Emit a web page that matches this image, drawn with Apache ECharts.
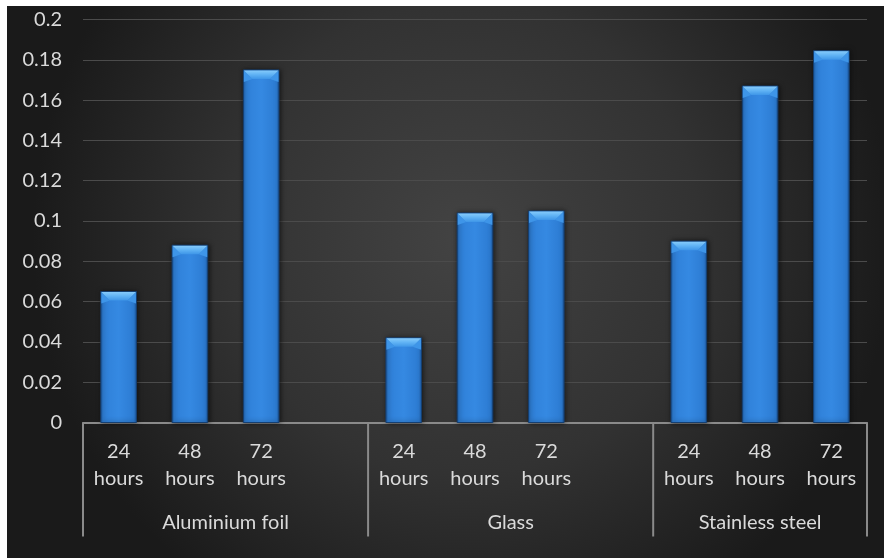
<!DOCTYPE html>
<html>
<head>
<meta charset="utf-8">
<script src="https://cdn.jsdelivr.net/npm/echarts@6/dist/echarts.min.js"></script>
<style>
  html, body { margin: 0; padding: 0; background: #ffffff; }
  #chart { position: absolute; left: 7px; top: 6px; width: 877px; height: 552px; }
</style>
</head>
<body>
<div id="chart"></div>
<script>
// Exposure times shown under each bar
const times = ['24\nhours', '48\nhours', '72\nhours'];
// Surface materials (outer axis level)
const materials = ['Aluminium foil', 'Glass', 'Stainless steel'];
// Measured values per material, one per exposure time
const aluminiumFoil = [0.065, 0.088, 0.175];
const glass = [0.042, 0.104, 0.105];
const stainlessSteel = [0.090, 0.167, 0.1845];
// Y-axis scale
const yMin = 0, yMax = 0.2, yStep = 0.02;

const seriesByMaterial = [aluminiumFoil, glass, stainlessSteel];

// Flatten into one category axis, with an empty spacer slot between materials
const categories = [];
const values = [];
const groupRanges = []; // [startIndex, count, name]
materials.forEach((m, gi) => {
  const start = categories.length;
  times.forEach((t, ti) => { categories.push(t); values.push(seriesByMaterial[gi][ti]); });
  let count = times.length;
  if (gi < materials.length - 1) { categories.push(''); values.push(null); count += 1; }
  groupRanges.push([start, count, m]);
});

const textColor = '#dadada';
const fontFamily = 'Lato, "Open Sans", sans-serif';
const fontSize = 20;

const chart = echarts.init(document.getElementById('chart'), null, { renderer: 'canvas' });

function renderBar(params, api) {
  const v = api.value(1);
  if (v === null || v === undefined || isNaN(v)) return null;
  const idx = api.value(0);
  const top = api.coord([idx, v]);
  const base = api.coord([idx, 0]);
  const w = api.size([1, 0])[0] * 0.5;
  const x0 = top[0] - w / 2, x1 = top[0] + w / 2;
  const y0 = top[1], y1 = base[1];
  const bev = Math.min(9, w * 0.26), bh = Math.min(9, (y1 - y0));
  return {
    type: 'group',
    children: [
      { type: 'rect', shape: { x: x0, y: y0, width: w, height: y1 - y0 },
        style: {
          fill: new echarts.graphic.LinearGradient(0, 0, 1, 0, [
            { offset: 0, color: '#1d5ea8' },
            { offset: 0.08, color: '#2f80d8' },
            { offset: 0.5, color: '#3589e2' },
            { offset: 0.92, color: '#2c7bd2' },
            { offset: 1, color: '#1a559b' }
          ]),
          stroke: '#163f70', lineWidth: 1,
          shadowBlur: 5, shadowColor: 'rgba(0,0,0,0.6)', shadowOffsetX: 1, shadowOffsetY: 0
        } },
      // side facets of the bevel
      { type: 'polygon', shape: { points: [[x0 + 0.5, y0 + 0.5], [x0 + bev, y0 + bh], [x0 + 0.5, y0 + bh + 3]] },
        style: { fill: '#3e95e8' } },
      { type: 'polygon', shape: { points: [[x1 - 0.5, y0 + 0.5], [x1 - bev, y0 + bh], [x1 - 0.5, y0 + bh + 3]] },
        style: { fill: '#3e95e8' } },
      // bevelled top face
      { type: 'polygon', shape: { points: [[x0 + 0.5, y0 + 0.5], [x1 - 0.5, y0 + 0.5], [x1 - bev, y0 + bh], [x0 + bev, y0 + bh]] },
        style: { fill: new echarts.graphic.LinearGradient(0, 0, 0, 1, [
            { offset: 0, color: '#86cbfb' },
            { offset: 0.5, color: '#5fb2f4' },
            { offset: 1, color: '#3f96e8' }
          ]) } }
    ]
  };
}

function renderGroups(params, api) {
  const start = api.value(0), count = api.value(1);
  const name = groupRanges[params.dataIndex][2];
  const band = api.size([1, 0])[0];
  const left = api.coord([start, 0])[0] - band / 2;
  const right = left + band * count;
  const base = api.coord([start, 0])[1];
  const children = [
    { type: 'line', shape: { x1: left, y1: base, x2: left, y2: base + 114 },
      style: { stroke: '#8a8a8a', lineWidth: 2 } },
    { type: 'text', style: { text: name, x: (left + right) / 2, y: base + 100,
        align: 'center', verticalAlign: 'middle', fill: textColor, font: fontSize + 'px ' + fontFamily } }
  ];
  if (params.dataIndex === groupRanges.length - 1) {
    children.push({ type: 'line', shape: { x1: right, y1: base, x2: right, y2: base + 114 },
      style: { stroke: '#8a8a8a', lineWidth: 2 } });
  }
  return { type: 'group', children };
}

chart.setOption({
  backgroundColor: new echarts.graphic.RadialGradient(0.52, 0.42, 0.78, [
    { offset: 0, color: '#434343' },
    { offset: 0.55, color: '#323232' },
    { offset: 1, color: '#1a1a1a' }
  ]),
  animation: false,
  grid: { left: 76, top: 13.5, width: 784, height: 403 },
  xAxis: {
    type: 'category',
    data: categories,
    axisLine: { lineStyle: { color: '#8a8a8a', width: 2 } },
    axisTick: { show: false },
    axisLabel: { color: textColor, fontSize: fontSize, fontFamily: fontFamily, lineHeight: 27, margin: 16, interval: 0 },
    splitLine: { show: false }
  },
  yAxis: {
    type: 'value', min: yMin, max: yMax, interval: yStep,
    axisLine: { show: false }, axisTick: { show: false },
    axisLabel: { color: textColor, fontSize: fontSize, fontFamily: fontFamily, margin: 21 },
    splitLine: { lineStyle: { color: '#4b4b4b', width: 1 } }
  },
  series: [
    { type: 'custom', name: 'values', renderItem: renderBar,
      data: values.map((v, i) => [i, v]), encode: { x: 0, y: 1 }, clip: false },
    { type: 'custom', name: 'groups', renderItem: renderGroups,
      data: groupRanges.map(g => [g[0], g[1]]), encode: { x: 0 }, clip: false, silent: true }
  ]
});
</script>
</body>
</html>
